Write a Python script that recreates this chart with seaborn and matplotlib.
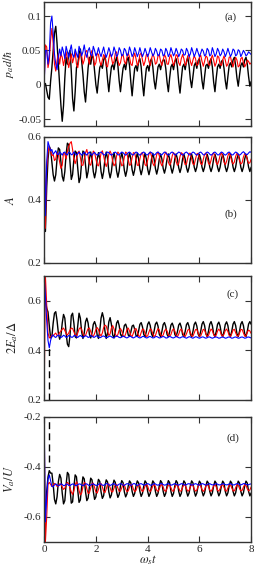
import matplotlib
matplotlib.use("Agg")
import matplotlib.pyplot as plt
import seaborn as sns
import numpy as np
import pandas as pd

# time grid (omega_s t), 0.05 steps from 0 to 8
t = np.round(np.arange(161) * 0.05, 2)

# panel (a): p_a d / hbar
pa_black = [
    0.000, 0.002, -0.008, -0.018, -0.021, 0.005, 0.025, 0.050, 0.075, 0.085, 0.060, 0.030, 0.000, -0.030, -0.053, -0.030, 0.010, 0.040, 0.030, 0.045,
    0.050, 0.020, -0.020, -0.038, -0.010, 0.025, 0.030, 0.045, 0.052, 0.035, 0.015, -0.010, -0.025, 0.000, 0.025, 0.040, 0.030, 0.042, 0.040, 0.020,
    0.000, -0.012, 0.008, 0.025, 0.030, 0.024, 0.036, 0.042, 0.030, 0.008, -0.010, 0.010, 0.026, 0.030, 0.022, 0.034, 0.040, 0.028, 0.006, -0.010,
    0.008, 0.024, 0.030, 0.022, 0.035, 0.040, 0.028, 0.004, -0.016, 0.006, 0.024, 0.028, 0.020, 0.034, 0.038, 0.026, 0.002, -0.016, 0.006, 0.024,
    0.028, 0.020, 0.034, 0.038, 0.026, 0.006, -0.006, 0.010, 0.026, 0.030, 0.022, 0.032, 0.036, 0.036, 0.024, 0.004, -0.010, 0.010, 0.026, 0.030,
    0.022, 0.034, 0.038, 0.026, 0.004, -0.012, 0.008, 0.026, 0.030, 0.022, 0.034, 0.040, 0.028, 0.008, -0.004, 0.012, 0.028, 0.032, 0.024, 0.035,
    0.038, 0.026, 0.006, -0.006, 0.012, 0.028, 0.030, 0.024, 0.034, 0.038, 0.026, 0.004, -0.010, 0.010, 0.026, 0.030, 0.024, 0.034, 0.036, 0.024,
    0.006, -0.006, 0.012, 0.028, 0.032, 0.026, 0.036, 0.040, 0.028, 0.010, -0.002, 0.014, 0.028, 0.032, 0.026, 0.036, 0.040, 0.030, 0.012, -0.002,
    0.005,
]
pa_red = [
    0.000, 0.058, 0.055, 0.025, 0.035, 0.065, 0.082, 0.060, 0.030, 0.020, 0.035, 0.045, 0.030, 0.045, 0.040, 0.028, 0.038, 0.048, 0.036, 0.025,
    0.035, 0.045, 0.032, 0.040, 0.048, 0.030, 0.025, 0.038, 0.046, 0.042, 0.030, 0.036, 0.048, 0.050, 0.038, 0.030, 0.044, 0.050, 0.040, 0.028,
    0.032, 0.046, 0.044, 0.034, 0.028, 0.036, 0.044, 0.040, 0.028, 0.026, 0.038, 0.046, 0.040, 0.030, 0.034, 0.046, 0.048, 0.036, 0.028, 0.032,
    0.042, 0.044, 0.034, 0.030, 0.040, 0.046, 0.040, 0.030, 0.028, 0.040, 0.046, 0.038, 0.028, 0.032, 0.044, 0.046, 0.036, 0.028, 0.034, 0.044,
    0.044, 0.034, 0.028, 0.038, 0.045, 0.040, 0.030, 0.032, 0.042, 0.044, 0.034, 0.028, 0.036, 0.044, 0.040, 0.030, 0.030, 0.040, 0.044, 0.036,
    0.028, 0.034, 0.044, 0.042, 0.032, 0.028, 0.038, 0.044, 0.038, 0.028, 0.032, 0.042, 0.044, 0.034, 0.028, 0.036, 0.042, 0.038, 0.028, 0.030,
    0.040, 0.043, 0.034, 0.027, 0.034, 0.042, 0.040, 0.030, 0.028, 0.038, 0.043, 0.036, 0.027, 0.032, 0.042, 0.040, 0.030, 0.028, 0.036, 0.042,
    0.036, 0.027, 0.030, 0.040, 0.041, 0.032, 0.026, 0.034, 0.040, 0.036, 0.026, 0.028, 0.038, 0.040, 0.032, 0.026, 0.030, 0.036, 0.034, 0.030,
    0.032,
]
pa_blue = [
    0.000, 0.050, 0.050, 0.030, 0.045, 0.090, 0.100, 0.075, 0.045, 0.030, 0.022, 0.040, 0.052, 0.042, 0.055, 0.048, 0.038, 0.056, 0.048, 0.040,
    0.050, 0.058, 0.044, 0.040, 0.052, 0.045, 0.040, 0.056, 0.050, 0.042, 0.048, 0.058, 0.046, 0.040, 0.050, 0.054, 0.044, 0.042, 0.056, 0.050,
    0.042, 0.046, 0.054, 0.046, 0.041, 0.048, 0.055, 0.046, 0.040, 0.046, 0.054, 0.048, 0.041, 0.045, 0.055, 0.049, 0.041, 0.044, 0.054, 0.050,
    0.042, 0.044, 0.053, 0.050, 0.042, 0.045, 0.055, 0.049, 0.041, 0.045, 0.054, 0.048, 0.041, 0.046, 0.054, 0.047, 0.041, 0.046, 0.053, 0.047,
    0.041, 0.046, 0.054, 0.048, 0.042, 0.045, 0.053, 0.049, 0.042, 0.044, 0.052, 0.050, 0.042, 0.044, 0.053, 0.049, 0.041, 0.045, 0.054, 0.048,
    0.042, 0.046, 0.053, 0.048, 0.041, 0.045, 0.052, 0.050, 0.043, 0.044, 0.053, 0.049, 0.041, 0.045, 0.054, 0.048, 0.041, 0.046, 0.053, 0.047,
    0.041, 0.046, 0.052, 0.049, 0.042, 0.044, 0.053, 0.050, 0.042, 0.044, 0.054, 0.048, 0.041, 0.045, 0.053, 0.049, 0.042, 0.045, 0.052, 0.048,
    0.041, 0.046, 0.053, 0.047, 0.041, 0.045, 0.052, 0.050, 0.042, 0.044, 0.051, 0.049, 0.041, 0.045, 0.050, 0.047, 0.042, 0.044, 0.048, 0.046,
    0.044,
]

# panel (b): A
pb_black = [
    0.600, 0.300, 0.440, 0.530, 0.570, 0.560, 0.520, 0.480, 0.460, 0.480, 0.530, 0.565, 0.560, 0.520, 0.475, 0.460, 0.490, 0.545, 0.580, 0.575,
    0.520, 0.465, 0.480, 0.530, 0.555, 0.550, 0.500, 0.455, 0.470, 0.520, 0.555, 0.550, 0.510, 0.470, 0.490, 0.530, 0.552, 0.530, 0.490, 0.470,
    0.490, 0.530, 0.550, 0.530, 0.490, 0.468, 0.490, 0.530, 0.552, 0.532, 0.490, 0.470, 0.490, 0.528, 0.550, 0.530, 0.492, 0.472, 0.492, 0.530,
    0.550, 0.530, 0.494, 0.475, 0.494, 0.530, 0.550, 0.530, 0.496, 0.478, 0.496, 0.530, 0.548, 0.530, 0.498, 0.480, 0.498, 0.530, 0.548, 0.530,
    0.498, 0.480, 0.498, 0.530, 0.548, 0.530, 0.500, 0.482, 0.500, 0.530, 0.546, 0.530, 0.500, 0.485, 0.502, 0.530, 0.546, 0.530, 0.502, 0.485,
    0.502, 0.530, 0.546, 0.530, 0.502, 0.487, 0.503, 0.530, 0.545, 0.530, 0.503, 0.488, 0.503, 0.530, 0.545, 0.530, 0.504, 0.490, 0.504, 0.530,
    0.545, 0.530, 0.504, 0.490, 0.504, 0.530, 0.545, 0.530, 0.504, 0.490, 0.504, 0.530, 0.545, 0.530, 0.504, 0.490, 0.504, 0.530, 0.545, 0.530,
    0.504, 0.490, 0.504, 0.530, 0.545, 0.530, 0.504, 0.490, 0.504, 0.530, 0.545, 0.530, 0.504, 0.490, 0.504, 0.530, 0.545, 0.530, 0.504, 0.490,
    0.504,
]
pb_red = [
    0.600, 0.310, 0.500, 0.550, 0.570, 0.555, 0.540, 0.545, 0.525, 0.530, 0.550, 0.545, 0.520, 0.500, 0.510, 0.550, 0.545, 0.530, 0.555, 0.570,
    0.580, 0.585, 0.560, 0.530, 0.515, 0.530, 0.550, 0.555, 0.535, 0.510, 0.510, 0.530, 0.550, 0.560, 0.540, 0.515, 0.510, 0.530, 0.555, 0.550,
    0.530, 0.512, 0.508, 0.525, 0.548, 0.556, 0.540, 0.518, 0.506, 0.520, 0.545, 0.555, 0.545, 0.522, 0.508, 0.515, 0.540, 0.552, 0.546, 0.525,
    0.508, 0.512, 0.536, 0.552, 0.548, 0.528, 0.510, 0.512, 0.534, 0.550, 0.548, 0.530, 0.510, 0.510, 0.530, 0.548, 0.550, 0.534, 0.512, 0.508,
    0.526, 0.546, 0.552, 0.538, 0.516, 0.508, 0.522, 0.544, 0.552, 0.540, 0.518, 0.508, 0.520, 0.542, 0.552, 0.542, 0.520, 0.510, 0.518, 0.540,
    0.550, 0.544, 0.522, 0.510, 0.516, 0.538, 0.550, 0.546, 0.526, 0.512, 0.514, 0.534, 0.548, 0.548, 0.530, 0.514, 0.512, 0.530, 0.546, 0.548,
    0.532, 0.515, 0.512, 0.528, 0.545, 0.549, 0.534, 0.516, 0.512, 0.526, 0.544, 0.550, 0.536, 0.518, 0.512, 0.524, 0.542, 0.550, 0.538, 0.520,
    0.512, 0.522, 0.540, 0.550, 0.540, 0.522, 0.514, 0.520, 0.538, 0.548, 0.542, 0.524, 0.514, 0.518, 0.536, 0.547, 0.544, 0.528, 0.516, 0.518,
    0.530,
]
pb_blue = [
    0.600, 0.350, 0.520, 0.585, 0.570, 0.555, 0.560, 0.545, 0.550, 0.556, 0.546, 0.544, 0.552, 0.548, 0.542, 0.550, 0.552, 0.544, 0.543, 0.551,
    0.550, 0.543, 0.545, 0.552, 0.548, 0.542, 0.546, 0.552, 0.547, 0.542, 0.547, 0.552, 0.546, 0.542, 0.548, 0.552, 0.545, 0.542, 0.548, 0.551,
    0.545, 0.542, 0.545, 0.550, 0.552, 0.548, 0.543, 0.543, 0.548, 0.552, 0.550, 0.545, 0.542, 0.545, 0.550, 0.552, 0.548, 0.543, 0.543, 0.548,
    0.552, 0.550, 0.545, 0.542, 0.545, 0.550, 0.552, 0.548, 0.543, 0.543, 0.548, 0.552, 0.550, 0.545, 0.542, 0.545, 0.550, 0.552, 0.548, 0.543,
    0.543, 0.548, 0.552, 0.550, 0.545, 0.542, 0.545, 0.550, 0.552, 0.548, 0.543, 0.543, 0.548, 0.552, 0.550, 0.545, 0.542, 0.545, 0.550, 0.552,
    0.548, 0.543, 0.543, 0.548, 0.552, 0.550, 0.545, 0.542, 0.545, 0.550, 0.552, 0.548, 0.543, 0.543, 0.548, 0.552, 0.550, 0.545, 0.542, 0.545,
    0.550, 0.552, 0.548, 0.543, 0.543, 0.548, 0.552, 0.550, 0.545, 0.542, 0.545, 0.550, 0.552, 0.548, 0.543, 0.543, 0.548, 0.552, 0.550, 0.545,
    0.542, 0.545, 0.550, 0.552, 0.548, 0.543, 0.543, 0.548, 0.552, 0.550, 0.545, 0.542, 0.545, 0.550, 0.553, 0.549, 0.544, 0.544, 0.549, 0.553,
    0.551,
]

# panel (c): 2 E_a / Delta
pc_black = [
    0.620, 0.600, 0.570, 0.555, 0.500, 0.450, 0.455, 0.510, 0.550, 0.556, 0.520, 0.470, 0.445, 0.460, 0.510, 0.545, 0.530, 0.470, 0.425, 0.415,
    0.460, 0.540, 0.550, 0.510, 0.455, 0.450, 0.500, 0.550, 0.530, 0.475, 0.448, 0.470, 0.515, 0.530, 0.510, 0.465, 0.450, 0.470, 0.505, 0.516,
    0.500, 0.462, 0.448, 0.480, 0.530, 0.552, 0.530, 0.478, 0.448, 0.470, 0.515, 0.532, 0.505, 0.462, 0.450, 0.475, 0.510, 0.520, 0.500, 0.465,
    0.455, 0.472, 0.500, 0.506, 0.490, 0.462, 0.456, 0.474, 0.498, 0.502, 0.485, 0.460, 0.456, 0.478, 0.505, 0.512, 0.495, 0.464, 0.455, 0.476,
    0.505, 0.515, 0.500, 0.466, 0.455, 0.478, 0.506, 0.514, 0.498, 0.465, 0.455, 0.476, 0.504, 0.512, 0.496, 0.464, 0.455, 0.474, 0.502, 0.510,
    0.495, 0.464, 0.456, 0.475, 0.502, 0.510, 0.494, 0.464, 0.456, 0.476, 0.504, 0.512, 0.496, 0.465, 0.455, 0.476, 0.505, 0.514, 0.498, 0.466,
    0.455, 0.477, 0.506, 0.516, 0.500, 0.467, 0.455, 0.477, 0.506, 0.516, 0.500, 0.467, 0.455, 0.476, 0.505, 0.514, 0.498, 0.466, 0.455, 0.476,
    0.505, 0.515, 0.500, 0.467, 0.456, 0.477, 0.506, 0.516, 0.500, 0.467, 0.456, 0.477, 0.506, 0.516, 0.500, 0.467, 0.456, 0.477, 0.506, 0.516,
    0.505,
]
pc_red = [
    0.200, 0.700, 0.580, 0.470, 0.450, 0.455, 0.462, 0.458, 0.465, 0.470, 0.460, 0.462, 0.472, 0.478, 0.485, 0.490, 0.480, 0.468, 0.462, 0.470,
    0.482, 0.490, 0.488, 0.475, 0.462, 0.458, 0.470, 0.486, 0.492, 0.484, 0.468, 0.458, 0.460, 0.475, 0.488, 0.490, 0.476, 0.460, 0.456, 0.468,
    0.484, 0.492, 0.484, 0.466, 0.458, 0.470, 0.492, 0.502, 0.498, 0.478, 0.460, 0.466, 0.490, 0.500, 0.486, 0.466, 0.456, 0.464, 0.482, 0.488,
    0.478, 0.460, 0.454, 0.466, 0.484, 0.490, 0.478, 0.460, 0.456, 0.470, 0.486, 0.488, 0.474, 0.458, 0.456, 0.472, 0.486, 0.484, 0.468, 0.456,
    0.458, 0.474, 0.487, 0.482, 0.466, 0.456, 0.460, 0.476, 0.488, 0.482, 0.464, 0.455, 0.462, 0.478, 0.486, 0.478, 0.462, 0.456, 0.464, 0.480,
    0.487, 0.478, 0.461, 0.455, 0.465, 0.481, 0.486, 0.474, 0.459, 0.456, 0.467, 0.482, 0.485, 0.472, 0.458, 0.457, 0.470, 0.484, 0.484, 0.470,
    0.457, 0.458, 0.472, 0.485, 0.482, 0.467, 0.456, 0.460, 0.475, 0.486, 0.480, 0.464, 0.455, 0.462, 0.478, 0.486, 0.478, 0.462, 0.456, 0.465,
    0.480, 0.486, 0.476, 0.460, 0.456, 0.467, 0.482, 0.485, 0.472, 0.458, 0.458, 0.470, 0.484, 0.484, 0.470, 0.457, 0.459, 0.473, 0.482, 0.478,
    0.468,
]
pc_blue = [
    0.700, 0.620, 0.520, 0.440, 0.410, 0.440, 0.458, 0.462, 0.455, 0.452, 0.458, 0.462, 0.457, 0.452, 0.455, 0.461, 0.458, 0.452, 0.454, 0.460,
    0.459, 0.453, 0.453, 0.459, 0.460, 0.454, 0.452, 0.457, 0.460, 0.456, 0.452, 0.455, 0.459, 0.457, 0.452, 0.454, 0.459, 0.458, 0.453, 0.453,
    0.458, 0.458, 0.454, 0.451, 0.453, 0.457, 0.458, 0.455, 0.451, 0.452, 0.456, 0.458, 0.455, 0.451, 0.451, 0.455, 0.458, 0.456, 0.452, 0.451,
    0.454, 0.457, 0.456, 0.452, 0.450, 0.453, 0.457, 0.456, 0.452, 0.450, 0.453, 0.456, 0.456, 0.452, 0.450, 0.452, 0.456, 0.456, 0.453, 0.450,
    0.451, 0.455, 0.456, 0.453, 0.450, 0.451, 0.455, 0.456, 0.453, 0.450, 0.451, 0.454, 0.456, 0.454, 0.450, 0.450, 0.454, 0.456, 0.454, 0.451,
    0.450, 0.453, 0.456, 0.454, 0.451, 0.450, 0.453, 0.455, 0.454, 0.451, 0.449, 0.452, 0.455, 0.454, 0.451, 0.449, 0.452, 0.455, 0.454, 0.451,
    0.449, 0.451, 0.454, 0.454, 0.451, 0.449, 0.451, 0.454, 0.454, 0.451, 0.449, 0.451, 0.454, 0.454, 0.452, 0.449, 0.450, 0.453, 0.454, 0.452,
    0.449, 0.450, 0.453, 0.454, 0.452, 0.449, 0.450, 0.453, 0.454, 0.452, 0.449, 0.450, 0.453, 0.454, 0.452, 0.449, 0.450, 0.453, 0.454, 0.452,
    0.450,
]

# panel (d): V_a / U
pd_black = [
    -0.600, -0.570, -0.500, -0.440, -0.415, -0.425, -0.425, -0.470, -0.530, -0.548, -0.520, -0.460, -0.430, -0.445, -0.505, -0.548, -0.535, -0.470, -0.422, -0.430,
    -0.490, -0.545, -0.540, -0.480, -0.432, -0.440, -0.495, -0.542, -0.532, -0.480, -0.440, -0.448, -0.500, -0.535, -0.525, -0.480, -0.445, -0.452, -0.498, -0.530,
    -0.520, -0.478, -0.450, -0.458, -0.500, -0.526, -0.515, -0.476, -0.452, -0.460, -0.500, -0.524, -0.512, -0.476, -0.453, -0.462, -0.500, -0.522, -0.510, -0.476,
    -0.455, -0.463, -0.500, -0.520, -0.508, -0.476, -0.456, -0.464, -0.498, -0.518, -0.506, -0.476, -0.456, -0.464, -0.498, -0.518, -0.506, -0.476, -0.456, -0.464,
    -0.498, -0.518, -0.506, -0.476, -0.456, -0.464, -0.498, -0.518, -0.506, -0.476, -0.455, -0.463, -0.498, -0.518, -0.506, -0.476, -0.455, -0.463, -0.498, -0.518,
    -0.506, -0.476, -0.455, -0.463, -0.498, -0.518, -0.506, -0.476, -0.456, -0.464, -0.498, -0.517, -0.505, -0.476, -0.456, -0.464, -0.498, -0.517, -0.505, -0.476,
    -0.457, -0.465, -0.498, -0.516, -0.504, -0.476, -0.457, -0.465, -0.498, -0.516, -0.504, -0.476, -0.457, -0.465, -0.498, -0.516, -0.504, -0.476, -0.457, -0.465,
    -0.498, -0.516, -0.504, -0.476, -0.457, -0.465, -0.498, -0.516, -0.504, -0.476, -0.457, -0.465, -0.498, -0.516, -0.504, -0.476, -0.457, -0.465, -0.498, -0.516,
    -0.504,
]
pd_red = [
    -0.200, -0.700, -0.600, -0.470, -0.462, -0.470, -0.478, -0.472, -0.466, -0.470, -0.478, -0.476, -0.468, -0.470, -0.480, -0.490, -0.485, -0.470, -0.462, -0.468,
    -0.485, -0.500, -0.510, -0.495, -0.472, -0.460, -0.470, -0.495, -0.512, -0.505, -0.480, -0.462, -0.466, -0.488, -0.506, -0.504, -0.484, -0.466, -0.465, -0.482,
    -0.500, -0.505, -0.490, -0.470, -0.466, -0.480, -0.498, -0.503, -0.488, -0.470, -0.468, -0.483, -0.499, -0.500, -0.485, -0.470, -0.470, -0.485, -0.498, -0.497,
    -0.483, -0.470, -0.472, -0.488, -0.499, -0.496, -0.481, -0.470, -0.473, -0.489, -0.499, -0.494, -0.479, -0.470, -0.475, -0.491, -0.499, -0.492, -0.477, -0.470,
    -0.477, -0.493, -0.499, -0.490, -0.476, -0.470, -0.479, -0.494, -0.498, -0.488, -0.474, -0.470, -0.481, -0.495, -0.498, -0.486, -0.473, -0.471, -0.483, -0.496,
    -0.497, -0.484, -0.472, -0.472, -0.485, -0.497, -0.496, -0.482, -0.471, -0.473, -0.487, -0.497, -0.495, -0.480, -0.471, -0.474, -0.489, -0.497, -0.493, -0.478,
    -0.470, -0.476, -0.491, -0.498, -0.491, -0.476, -0.470, -0.478, -0.493, -0.498, -0.489, -0.475, -0.470, -0.480, -0.494, -0.497, -0.487, -0.473, -0.471, -0.482,
    -0.495, -0.497, -0.485, -0.472, -0.472, -0.484, -0.496, -0.496, -0.483, -0.471, -0.473, -0.486, -0.496, -0.494, -0.481, -0.471, -0.474, -0.488, -0.496, -0.492,
    -0.480,
]
pd_blue = [
    -0.200, -0.620, -0.520, -0.450, -0.432, -0.455, -0.478, -0.480, -0.472, -0.468, -0.472, -0.476, -0.473, -0.468, -0.470, -0.475, -0.474, -0.469, -0.469, -0.474,
    -0.475, -0.471, -0.468, -0.470, -0.474, -0.475, -0.471, -0.468, -0.469, -0.473, -0.475, -0.472, -0.468, -0.468, -0.472, -0.475, -0.473, -0.469, -0.468, -0.471,
    -0.474, -0.474, -0.470, -0.467, -0.469, -0.473, -0.474, -0.471, -0.467, -0.468, -0.472, -0.474, -0.472, -0.468, -0.467, -0.471, -0.474, -0.473, -0.469, -0.467,
    -0.469, -0.473, -0.474, -0.470, -0.467, -0.468, -0.472, -0.474, -0.471, -0.467, -0.467, -0.471, -0.474, -0.472, -0.468, -0.467, -0.470, -0.473, -0.472, -0.469,
    -0.467, -0.469, -0.473, -0.473, -0.470, -0.467, -0.468, -0.472, -0.473, -0.471, -0.467, -0.467, -0.471, -0.473, -0.472, -0.468, -0.467, -0.470, -0.473, -0.472,
    -0.469, -0.467, -0.469, -0.472, -0.473, -0.470, -0.467, -0.468, -0.471, -0.473, -0.471, -0.468, -0.467, -0.470, -0.473, -0.472, -0.469, -0.467, -0.469, -0.472,
    -0.473, -0.470, -0.467, -0.468, -0.471, -0.473, -0.471, -0.468, -0.467, -0.470, -0.472, -0.472, -0.469, -0.467, -0.469, -0.472, -0.472, -0.470, -0.467, -0.468,
    -0.471, -0.472, -0.471, -0.468, -0.467, -0.470, -0.472, -0.472, -0.469, -0.467, -0.468, -0.471, -0.472, -0.470, -0.467, -0.467, -0.470, -0.472, -0.471, -0.469,
    -0.468,
]

panels = [
    ("a", r"$p_a d/\hbar$", pa_black, pa_red, pa_blue, (-0.06, 0.12),
     [-0.05, 0, 0.05, 0.1], ["-0.05", "0", "0.05", "0.1"]),
    ("b", r"$A$", pb_black, pb_red, pb_blue, (0.2, 0.6),
     [0.2, 0.4, 0.6], ["0.2", "0.4", "0.6"]),
    ("c", r"$2E_a/\Delta$", pc_black, pc_red, pc_blue, (0.2, 0.7),
     [0.2, 0.4, 0.6], ["0.2", "0.4", "0.6"]),
    ("d", r"$V_a/U$", pd_black, pd_red, pd_blue, (-0.7, -0.2),
     [-0.6, -0.4, -0.2], ["-0.6", "-0.4", "-0.2"]),
]

sns.set_style("ticks")
plt.rcParams["font.family"] = ["Liberation Serif", "DejaVu Serif"]
plt.rcParams["mathtext.fontset"] = "stix"
plt.rcParams["axes.unicode_minus"] = False

fig = plt.figure(figsize=(2.55, 5.68), dpi=100)

# axes boxes in figure fractions: left, bottom, width, height
boxes = [
    (0.173, 0.778, 0.812, 0.218),
    (0.173, 0.537, 0.812, 0.222),
    (0.173, 0.296, 0.812, 0.218),
    (0.173, 0.046, 0.812, 0.220),
]
label_pos = [(0.90, 0.88), (0.90, 0.39), (0.91, 0.85), (0.91, 0.83)]
ylab_x = [-0.135, -0.13, -0.115, -0.13]

for i, (tag, ylab, yk, yr, yb, ylim, yt, ytl) in enumerate(panels):
    ax = fig.add_axes(boxes[i])
    df = pd.DataFrame({"t": t, "black": yk, "red": yr, "blue": yb})
    sns.lineplot(data=df, x="t", y="black", color="black", linewidth=1.0,
                 estimator=None, ax=ax)
    sns.lineplot(data=df, x="t", y="red", color="#ff0000", linewidth=0.8,
                 estimator=None, ax=ax)
    sns.lineplot(data=df, x="t", y="blue", color="#0000ff", linewidth=0.8,
                 estimator=None, ax=ax)

    ax.set_xlim(0, 8)
    ax.set_ylim(*ylim)
    ax.set_xticks([0, 2, 4, 6, 8])
    ax.set_yticks(yt)
    ax.set_yticklabels(ytl)
    ax.tick_params(direction="in", top=True, right=True, length=4, width=0.8,
                   labelsize=8, pad=2, color="#333333")
    for sp in ax.spines.values():
        sp.set_linewidth(1.0)
        sp.set_color("#333333")

    ax.set_ylabel(ylab, fontsize=8.5 if i == 0 else 9)
    ax.yaxis.set_label_coords(ylab_x[i], 0.5)
    if i < 3:
        ax.set_xlabel("")
        ax.set_xticklabels([])
    else:
        ax.set_xticklabels(["0", "2", "4", "6", "8"])
        ax.set_xlabel(r"$\omega_s t$", fontsize=9, labelpad=0)

    ax.text(label_pos[i][0], label_pos[i][1], f"({tag})", transform=ax.transAxes,
            ha="center", va="center", fontsize=8)

    # quench marker
    if tag == "c":
        ax.axvline(0.2, ymin=0, ymax=0.44, color="black", linewidth=1.0,
                   linestyle=(0, (5, 3)))
    if tag == "d":
        ax.axvline(0.2, ymin=0.64, ymax=1, color="black", linewidth=1.0,
                   linestyle=(0, (5, 3)))

fig.savefig("out.png", dpi=100)
